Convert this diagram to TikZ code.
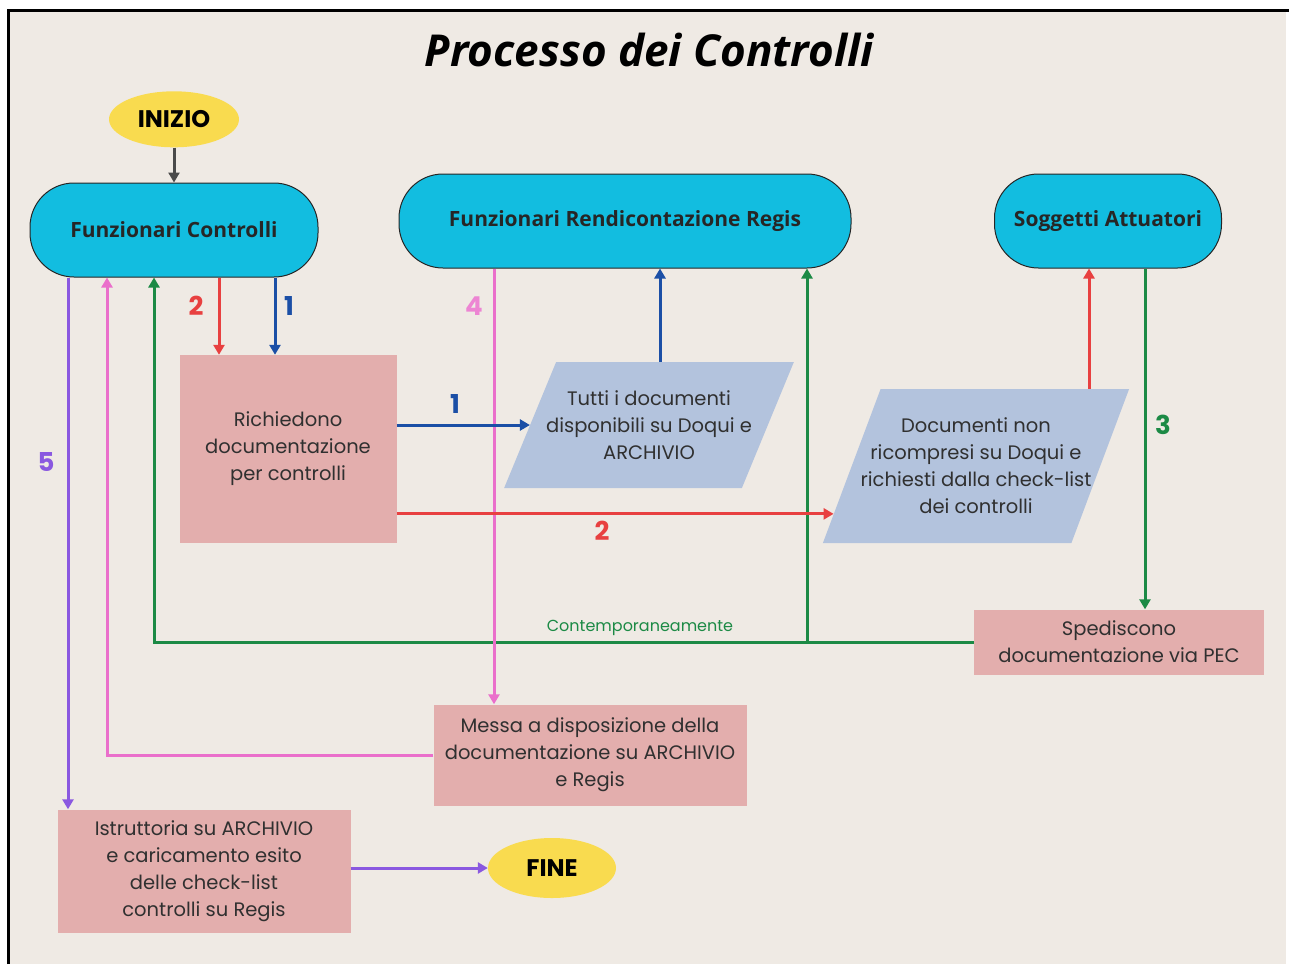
\documentclass[tikz,border=0pt]{standalone}
\usepackage{fontspec}
\setmainfont{Poppins}
\newfontfamily\headfont{Open Sans}
\usetikzlibrary{shapes,positioning,arrows,arrows.meta,calc}
\usepackage{xcolor}

\definecolor{paper}{HTML}{EFEAE4}
\definecolor{cyanbox}{HTML}{12BDE0}
\definecolor{rosebox}{HTML}{E3AEAD}
\definecolor{docbox}{HTML}{B3C3DD}
\definecolor{startend}{HTML}{F9DB4F}
\definecolor{ablue}{HTML}{1B4FA6}
\definecolor{ared}{HTML}{E84040}
\definecolor{agreen}{HTML}{1C8A45}
\definecolor{apink}{HTML}{EA6FCB}
\definecolor{apurple}{HTML}{8A58E0}
\definecolor{agray}{HTML}{4A4A4A}
\definecolor{ink}{HTML}{303030}

\begin{document}
\begin{tikzpicture}[x=1pt,y=-1pt,>={Triangle[length=10pt,width=11pt]}]
      \tikzstyle{actor}=[draw=black!85, line width=1pt, fill=cyanbox, rounded corners=44pt, minimum height=94pt, inner sep=0pt, font=\headfont\bfseries\fontsize{21}{24}\selectfont, text=black!85];
      \tikzstyle{task}=[fill=rosebox, inner sep=0pt, align=center, text=ink, font=\fontsize{19.5}{27}\selectfont];
      \tikzstyle{doc}=[trapezium, trapezium stretches body=true, fill=docbox, inner ysep=0pt, align=center, text=ink, font=\fontsize{19.5}{27}\selectfont];
      \tikzstyle{term}=[ellipse, fill=startend, inner sep=0pt, font=\bfseries\fontsize{24}{26}\selectfont, text=black];
      \tikzstyle{num}=[font=\bfseries\fontsize{26}{26}\selectfont];
      \tikzstyle{link}=[->, line width=3pt];

      % frame
      \useasboundingbox (0,0) rectangle (1289,964);
      \fill[white] (0,0) rectangle (1289,964);
      \fill[paper] (9,11) rectangle (1286,964);
      \draw[line width=3pt] (8,964) -- (8,10) -- (1289,10);

      \node (title) at (649,50) {\headfont\bfseries\itshape\fontsize{44}{48}\selectfont Processo dei Controlli};

      \node (fc) at (174,230)[actor, minimum width=288pt]{Funzionari Controlli};
      \node (inizio) [above=35pt of fc, term, minimum width=130pt, minimum height=56pt]{INIZIO};
      \node (frr) at (625,221)[actor, minimum width=452pt]{Funzionari Rendicontazione Regis};
      \node (sa) at (1108,221)[actor, minimum width=227pt]{Soggetti Attuatori};

      \node (rich) at (288,449)[task, minimum width=217pt, minimum height=188pt]{Richiedono\\documentazione\\per controlli};
      \node (para1) at (649,425)[doc, inner xsep=-10pt, trapezium left angle=53, trapezium right angle=127, minimum height=126pt]{Tutti i documenti\\disponibili su Doqui e\\ARCHIVIO};
      \node (para2) at (976,466)[doc, inner xsep=-20pt, trapezium left angle=59, trapezium right angle=121, minimum height=154pt]{Documenti non\\ricompresi su Doqui e\\richiesti dalla check-list\\dei controlli};
      \node (sped) at (1119,642)[task, minimum width=290pt, minimum height=65pt]{Spediscono\\documentazione via PEC};
      \node (mess) at (590,755)[task, minimum width=313pt, minimum height=101pt]{Messa a disposizione della\\documentazione su ARCHIVIO\\e Regis};
      \node (istr) at (204,871)[task, minimum width=293pt, minimum height=123pt]{Istruttoria su ARCHIVIO\\e caricamento esito\\delle check-list\\controlli su Regis};
      \node (fine) at (552,868)[term, minimum width=128pt, minimum height=60pt]{FINE};

      \coordinate (p1in) at ($(para1.bottom left corner)!0.5!(para1.top left corner)$);
      \coordinate (p2in) at ($(para2.bottom left corner)!0.19!(para2.top left corner)$);

      \draw [link, agray] (inizio) -- (fc);

      % green: answers sent at the same time
      \draw [link, agreen] ([xshift=37pt]sa.south) -- ([xshift=37pt]sa.south |- sped.north);
      \draw [link, agreen] (sped.west) -| ([xshift=-20pt]fc.south);
      \draw [link, agreen] ([xshift=182pt]frr.south |- sped.west) -- ([xshift=182pt]frr.south);
      \node (contemp) at (640,628)[text=agreen, font=\fontsize{16}{18}\selectfont]{Contemporaneamente};

      % pink
      \draw [link, apink] ([xshift=-131pt]frr.south) -- ([xshift=-131pt]frr.south |- mess.north);
      \draw [link, apink] (mess.west) -| ([xshift=-67pt]fc.south);

      % purple
      \draw [link, apurple] ([xshift=-106pt]fc.south) -- ([xshift=-106pt]fc.south |- istr.north);
      \draw [link, apurple] (istr.east |- fine.west) -- (fine.west);

      % blue and red
      \draw [link, ablue] ([xshift=101pt]fc.south) -- ([xshift=101pt]fc.south |- rich.north);
      \draw [link, ared] ([xshift=45pt]fc.south) -- ([xshift=45pt]fc.south |- rich.north);
      \draw [link, ablue] (rich.east |- p1in) -- (p1in);
      \draw [link, ablue] ([xshift=11pt]para1.north) -- ([xshift=11pt]para1.north |- frr.south);
      \draw [link, ared] (rich.east |- p2in) -- (p2in);
      \draw [link, ared] ([xshift=-19pt]sa.south |- para2.north) -- ([xshift=-19pt]sa.south);

      \node (n2a) at (196,306)[num, text=ared]{2};
      \node (n1a) at (289,306)[num, text=ablue]{1};
      \node (n4) at (474,306)[num, text=apink!85]{4};
      \node (n5) at (46,462)[num, text=apurple]{5};
      \node (n1b) at (455,404)[num, text=ablue]{1};
      \node (n2b) at (602,531)[num, text=ared]{2};
      \node (n3) at (1163,425)[num, text=agreen]{3};

    \end{tikzpicture}
\end{document}
